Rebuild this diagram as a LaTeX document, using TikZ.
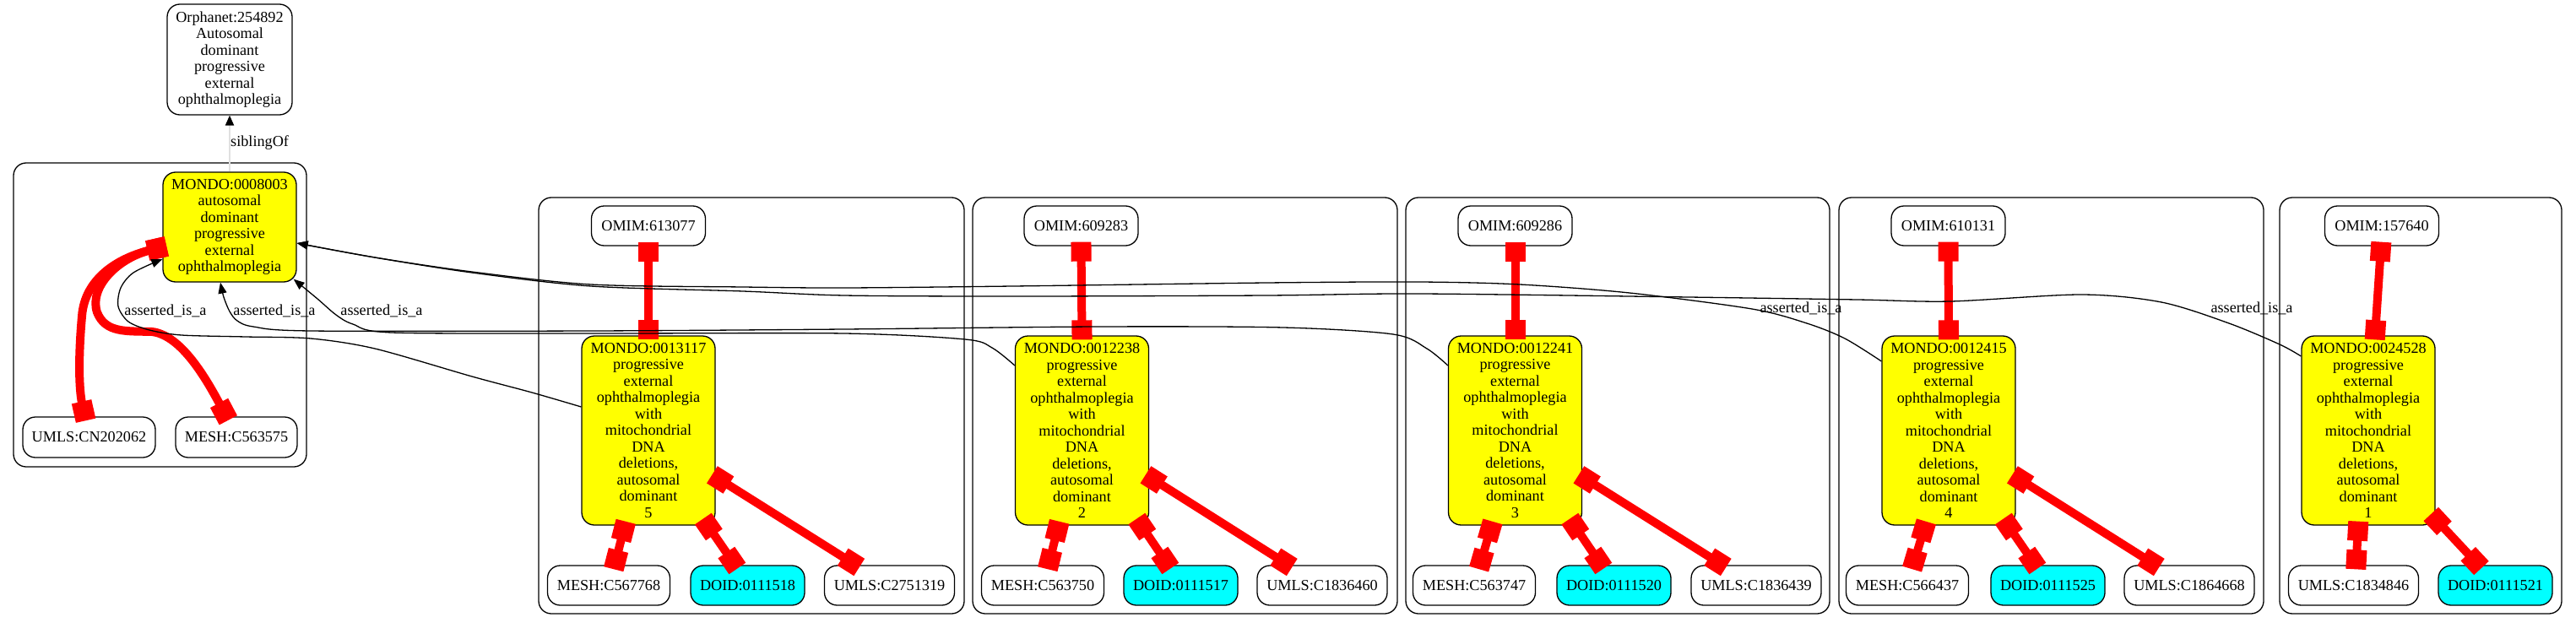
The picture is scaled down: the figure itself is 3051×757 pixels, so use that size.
\documentclass[tikz,border=0pt]{standalone}
\usepackage{fontspec}
\setmainfont{Liberation Serif}
\usetikzlibrary{arrows.meta,calc}
\definecolor{aqua}{RGB}{0,255,255}
\definecolor{yel}{RGB}{255,255,0}
\definecolor{rd}{RGB}{255,0,0}
\begin{document}
\begin{tikzpicture}[x=1pt,y=-1pt,
  lbl/.style={font=\fontsize{18.2}{19.5}\selectfont, inner sep=0pt},
  nd/.style={draw=black, line width=1.3pt, rounded corners=15pt, align=center, inner sep=0pt, font=\fontsize{18.2}{19.5}\selectfont, fill=white},
  omim/.style={nd, minimum width=135pt, minimum height=47pt},
  mesh/.style={nd, minimum width=145pt, minimum height=47pt},
  umls/.style={nd, minimum width=154pt, minimum height=47pt},
  doid/.style={nd, minimum width=135pt, minimum height=47pt, fill=aqua},
  mondo/.style={nd, minimum width=158pt, minimum height=224pt, fill=yel},
  clus/.style={draw=black, line width=1.3pt, rounded corners=15pt},
  xref/.style={draw=rd, line width=10pt, {Square[length=23pt,width=24pt]}-{Square[length=23pt,width=24pt]}, shorten <=-5pt, shorten >=-5pt},
  isa/.style={draw=black, line width=1.3pt, -{Triangle[length=13pt,width=10pt]}},
  sib/.style={draw=black!12, line width=2pt, -{Triangle[length=12pt,width=10pt,color=black]}},
]
\useasboundingbox (0,0) rectangle (3051,757);
\fill[white] (0,0) rectangle (3051,757);

% clusters
\draw[clus] (16,193) rectangle (363,553);
\draw[clus] (638,234) rectangle (1142,727);
\draw[clus] (1152,234) rectangle (1655,727);
\draw[clus] (1665,234) rectangle (2167,727);
\draw[clus] (2178,234) rectangle (2681,727);
\draw[clus] (2700,234) rectangle (3034,727);

% top nodes
\node[nd, minimum width=148pt, minimum height=131pt] (orph) at (272,70.5) {Orphanet:254892\\Autosomal\\dominant\\progressive\\external\\ophthalmoplegia};
\node[mondo, minimum height=130pt] (m0) at (272,269) {MONDO:0008003\\autosomal\\dominant\\progressive\\external\\ophthalmoplegia};
\node[nd, minimum width=157pt, minimum height=48pt] (u0) at (105.5,518) {UMLS:CN202062};
\node[nd, minimum width=144pt, minimum height=48pt] (me0) at (280,518) {MESH:C563575};

% cluster 2
\node[omim] (o1) at (768,267.5) {OMIM:613077};
\node[mondo] (m1) at (768,510) {MONDO:0013117\\progressive\\external\\ophthalmoplegia\\with\\mitochondrial\\DNA\\deletions,\\autosomal\\dominant\\5};
\node[mesh] (s1) at (721,693.5) {MESH:C567768};
\node[doid] (d1) at (885.5,693.5) {DOID:0111518};
\node[umls] (u1) at (1053.5,693.5) {UMLS:C2751319};

% cluster 3
\node[omim] (o2) at (1280.5,267.5) {OMIM:609283};
\node[mondo] (m2) at (1281.5,510) {MONDO:0012238\\progressive\\external\\ophthalmoplegia\\with\\mitochondrial\\DNA\\deletions,\\autosomal\\dominant\\2};
\node[mesh] (s2) at (1235,693.5) {MESH:C563750};
\node[doid] (d2) at (1398.5,693.5) {DOID:0111517};
\node[umls] (u2) at (1566,693.5) {UMLS:C1836460};

% cluster 4
\node[omim] (o3) at (1794.5,267.5) {OMIM:609286};
\node[mondo] (m3) at (1794.5,510) {MONDO:0012241\\progressive\\external\\ophthalmoplegia\\with\\mitochondrial\\DNA\\deletions,\\autosomal\\dominant\\3};
\node[mesh] (s3) at (1746,693.5) {MESH:C563747};
\node[doid] (d3) at (1911.5,693.5) {DOID:0111520};
\node[umls] (u3) at (2080,693.5) {UMLS:C1836439};

% cluster 5
\node[omim] (o4) at (2307.5,267.5) {OMIM:610131};
\node[mondo] (m4) at (2308,510) {MONDO:0012415\\progressive\\external\\ophthalmoplegia\\with\\mitochondrial\\DNA\\deletions,\\autosomal\\dominant\\4};
\node[mesh] (s4) at (2259,693.5) {MESH:C566437};
\node[doid] (d4) at (2425.5,693.5) {DOID:0111525};
\node[umls] (u4) at (2593,693.5) {UMLS:C1864668};

% cluster 6
\node[omim] (o5) at (2821,267.5) {OMIM:157640};
\node[mondo] (m5) at (2805,510) {MONDO:0024528\\progressive\\external\\ophthalmoplegia\\with\\mitochondrial\\DNA\\deletions,\\autosomal\\dominant\\1};
\node[umls] (u5) at (2787.5,693.5) {UMLS:C1834846};
\node[doid] (d5) at (2955.5,693.5) {DOID:0111521};

% siblingOf
\draw[sib] (m0.north) -- (orph.south);
\node[lbl, anchor=west] (sl) at (273,169) {siblingOf};

% red xref edges, cluster 1
\coordinate (r0) at ($(m0.west)+(0,24)$);
\draw[xref] (r0) .. controls (140,305) and (100,330) .. (97,375) .. controls (93,420) and (93,460) .. ($(u0.north)+(-5,0)$);
\draw[xref] (r0) .. controls (140,305) and (105,340) .. (115,370) .. controls (125,395) and (150,392) .. (180,393) .. controls (215,397) and (245,450) .. ($(me0.north)+(-12,0)$);

% red xref edges, clusters 2-5
\foreach \k in {1,2,3,4}{
  \draw[xref] (o\k.south) -- (m\k.north);
  \draw[xref] ($(m\k.south)+(-28,0)$) -- ($(s\k.north)+(7,0)$);
  \draw[xref] ($(m\k.south east)+(-12,-4)$) -- ($(d\k.north)+(-15,0)$);
  \draw[xref] ($(m\k.east)+(0,55)$) -- ($(u\k.north)+(-40,0)$);
}
% cluster 6
\draw[xref] ($(o5.south)+(-1,0)$) -- ($(m5.north)+(8,0)$);
\draw[xref] ($(m5.south)+(-12,0)$) -- ($(u5.north)+(3,0)$);
\draw[xref] ($(m5.south east)+(-2,-10)$) -- ($(d5.north)+(-20,0)$);

% asserted_is_a edges
\coordinate (a1) at ($(m1.west)+(0,-28)$);
\coordinate (a0) at ($(m0.west)+(0,38)$);
\coordinate (b3) at ($(m3.west)+(0,-77)$);
\coordinate (b0) at ($(m0.south)+(-11,0)$);
\coordinate (c2) at ($(m2.west)+(0,-77)$);
\coordinate (c0) at ($(m0.south east)+(-4,-4)$);
\coordinate (d4p) at ($(m4.west)+(0,-82)$);
\coordinate (e5) at ($(m5.west)+(0,-88)$);
\coordinate (e0) at ($(m0.east)+(0,19)$);

\draw[isa] plot[smooth, tension=0.5] coordinates {(a1) (630,465) (559,446) (444,413) (368,401) (291,399) (215,397) (177,391) (152,381) (140,363) (143,341) (158,323) (a0)};
\draw[isa] plot[smooth, tension=0.5] coordinates {(b3) (1690,413) (1650,396) (1520,388) (1300,387) (1000,390) (700,392) (368,392) (300,387) (281,380) (272,369) (265,352) (b0)};
\draw[isa] plot[smooth, tension=0.5] coordinates {(c2) (1175,412) (1143,402) (1000,395) (700,395) (464,394) (418,384) (398,373) (376,354) (c0)};
\draw[isa] plot[smooth, tension=0.5] coordinates {(d4p) (2185,401) (2140,383) (2075,366) (1930,347) (1800,337) (1680,334) (1500,335) (1200,339) (1000,341) (880,340) (700,337) (559,322) (444,305) (e0)};
\draw[isa] plot[smooth, tension=0.5] coordinates {(e5) (2700,408) (2640,383) (2560,358) (2465,349) (2310,357) (2200,355) (2000,352) (1680,348) (1500,350) (1200,351) (1000,350) (880,345) (700,339) (559,323) (444,305) (e0)};

\node[lbl] (l1) at (196,368) {asserted\_is\_a};
\node[lbl] (l2) at (325,368) {asserted\_is\_a};
\node[lbl] (l3) at (452,368) {asserted\_is\_a};
\node[lbl] (l4) at (2133,365) {asserted\_is\_a};
\node[lbl] (l5) at (2667,365) {asserted\_is\_a};
\end{tikzpicture}
\end{document}
